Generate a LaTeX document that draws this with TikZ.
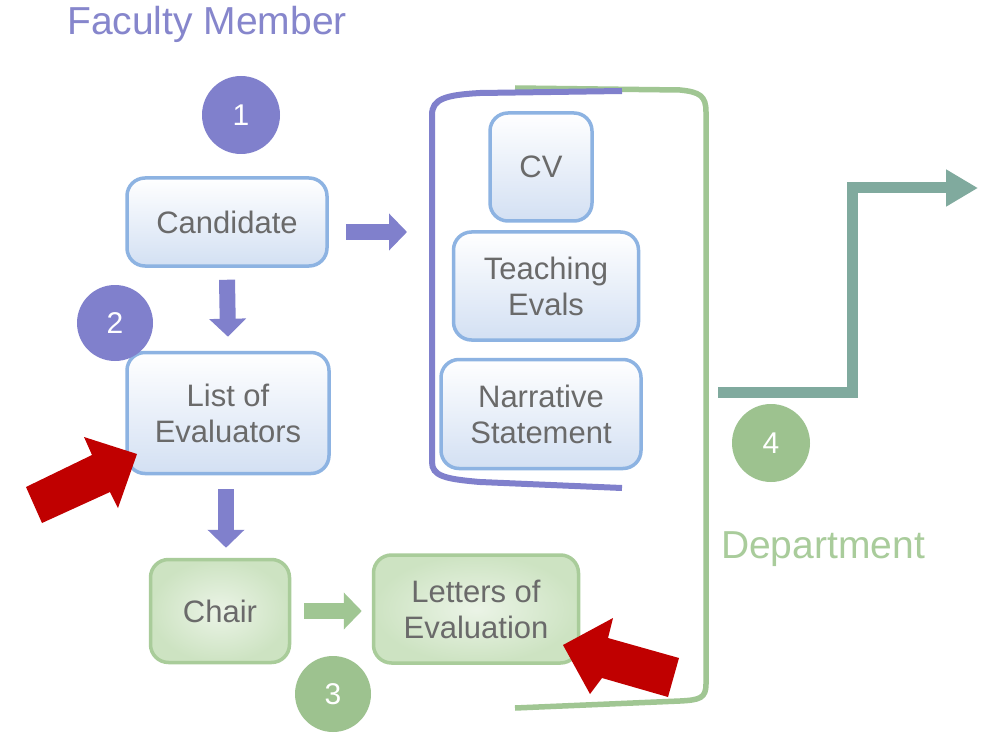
\documentclass[tikz,border=0pt]{standalone}
\usepackage{fontspec}
\setmainfont{Liberation Sans}
\usetikzlibrary{arrows.meta}
\definecolor{purp}{HTML}{8080CC}
\definecolor{purptext}{HTML}{8686CC}
\definecolor{grn}{HTML}{A0C693}
\definecolor{grntext}{HTML}{A9CC9B}
\definecolor{grncirc}{HTML}{9DC28F}
\definecolor{bluebd}{HTML}{8DB3E2}
\definecolor{bluefill}{HTML}{D3E0F3}
\definecolor{grnbd}{HTML}{A9CC9A}
\definecolor{grnfill}{HTML}{CDE3C2}
\definecolor{txtgray}{HTML}{6A6A6A}
\definecolor{teal}{HTML}{80AA9E}
\definecolor{redarr}{HTML}{C00000}
\begin{document}
\begin{tikzpicture}[x=1pt,y=-1pt,
  boxtext/.style={font=\fontsize{31}{36}\selectfont, text=txtgray, align=center},
  bluebox/.style={boxtext, rounded corners=18pt, draw=bluebd, line width=3.5pt,
    top color=white, bottom color=bluefill, inner sep=0pt},
  greenbox/.style={boxtext, rounded corners=18pt, draw=grnbd, line width=3.5pt,
    inner color=white!60!grnfill, outer color=grnfill, inner sep=0pt},
  numcirc/.style={circle, minimum size=78pt, inner sep=0pt, text=white,
    font=\fontsize{30}{30}\selectfont},
  parrow/.style={draw=purp, line width=16pt, -{Triangle[width=36pt,length=18pt]}},
  garrow/.style={draw=grn, line width=16pt, -{Triangle[width=36pt,length=18pt]}},
  redshape/.style={fill=redarr, draw=none}
]
\useasboundingbox (0,0) rectangle (987,735);
\fill[white] (0,0) rectangle (987,735);

% titles
\node[font=\fontsize{39}{39}\selectfont, text=purptext] (fac) at (207,24) {Faculty Member};
\node[font=\fontsize{39}{39}\selectfont, text=grntext] (dept) at (823,549) {Department};

% brackets
\draw[grn, line width=5.5pt] (515,88) -- (680,90) .. controls (700,92) and (706,96) .. (706,112)
  -- (706,684) .. controls (706,698) and (700,700) .. (680,701) -- (515,708);
\draw[purp, line width=6pt] (622,91) -- (480,93) .. controls (445,95) and (432,99) .. (432,115)
  -- (432,462) .. controls (432,476) and (445,479) .. (480,482) -- (622,488);
\coordinate (brL) at (432,232);

% boxes
\node[bluebox, minimum width=200pt, minimum height=88pt] (cand) at (227,222) {Candidate};
\node[bluebox, minimum width=202pt, minimum height=121pt] (list) at (228,413) {List of\\Evaluators};
\node[bluebox, minimum width=102pt, minimum height=108pt] (cv) at (541,167) {CV};
\node[bluebox, minimum width=185pt, minimum height=108pt] (teach) at (546,286) {Teaching\\Evals};
\node[bluebox, minimum width=200pt, minimum height=109pt] (narr) at (541,414) {Narrative\\Statement};
\node[greenbox, minimum width=139pt, minimum height=103pt] (chair) at (220,611) {Chair};
\node[greenbox, minimum width=205pt, minimum height=108pt] (letters) at (476,609) {Letters of\\Evaluation};

% number circles
\node[numcirc, fill=purp] (n1) at (241,115) {1};
\node[numcirc, fill=purp, minimum size=76pt] (n2) at (115,323) {2};
\node[numcirc, fill=grncirc, minimum size=76pt] (n3) at (333,694) {3};
\node[numcirc, fill=grncirc] (n4) at (771,443) {4};

% block arrows
\draw[parrow] ([xshift=17pt]cand.east |- brL) -- ([xshift=-25pt]brL);
\draw[parrow] ([yshift=-12pt]cand.south) -- ([yshift=14pt]list.north);
\draw[parrow] ([xshift=-2pt,yshift=-14pt]list.south) -- ([xshift=-2pt,yshift=10pt]list.south |- chair.north);
\draw[garrow] ([xshift=13pt]chair.east) -- ([xshift=-10pt]letters.west |- chair.east);

% teal step arrow
\coordinate (ts) at (718,392);
\coordinate (te) at (978,188);
\draw[teal, line width=11pt, miter limit=10, -{Triangle[width=35pt,length=32pt]}]
  (ts) -- (852,392) -- (852,188) -- (te);

% red arrows
\fill[redshape] (26,487) -- (92,455) -- (84,437) -- (137,454) -- (118,508) -- (110,492) -- (42,523) -- cycle;
\fill[redshape] (679,658) -- (608,638) -- (613,618) -- (563,645) -- (590,694) -- (602,678) -- (668,697) -- cycle;
\end{tikzpicture}
\end{document}
